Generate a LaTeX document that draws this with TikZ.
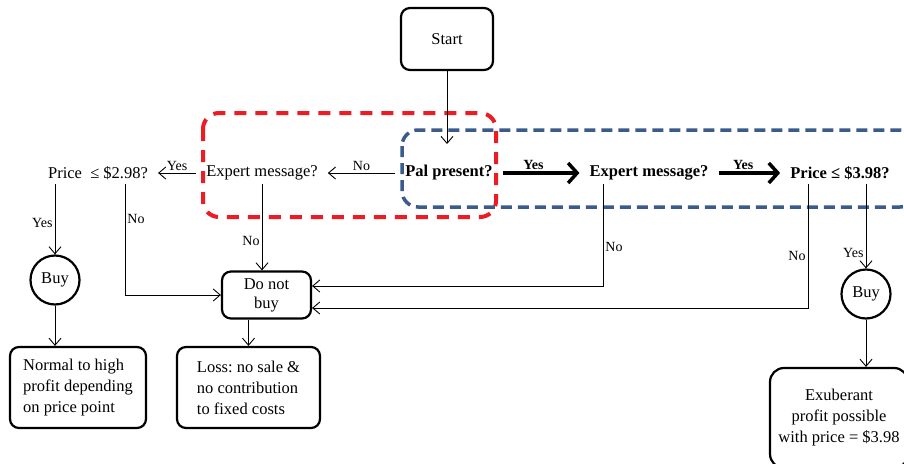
\documentclass[tikz,border=0pt]{standalone}
\usepackage{fontspec}
\setmainfont{Liberation Serif}
\usetikzlibrary{arrows.meta,calc}
\definecolor{myred}{RGB}{235,28,36}
\definecolor{myblue}{RGB}{58,92,138}
\frenchspacing
\begin{document}
\begin{tikzpicture}[x=1pt,y=-1pt,
  every node/.style={font=\fontsize{16.5}{21}\selectfont},
  box/.style={draw, line width=2.2pt, rounded corners=9pt, align=center},
  qtext/.style={inner xsep=10pt, inner ysep=4pt},
  bq/.style={qtext, font=\fontsize{16.5}{21}\selectfont\bfseries},
  buycirc/.style={draw, circle, line width=2.2pt, minimum size=49pt, inner sep=0pt},
  arr/.style={line width=0.9pt, -{Straight Barb[length=7pt,width=12pt]}},
  barr/.style={line width=3.5pt, -{Straight Barb[length=9pt,width=20pt]}},
  lab/.style={font=\fontsize{14}{16}\selectfont, inner sep=2pt},
  blab/.style={font=\fontsize{14}{16}\selectfont\bfseries, inner sep=2pt},
  redbox/.style={draw=myred, line width=4pt, dash pattern=on 12pt off 9pt, rounded corners=16pt},
  bluebox/.style={draw=myblue, line width=3.5pt, dash pattern=on 11pt off 6pt, rounded corners=16pt}]
\clip (0,0) rectangle (904,463);
\fill[white] (0,0) rectangle (904,463);

% dashed groups
\draw[redbox] (203,113) rectangle (496,217);
\draw[bluebox] (402,130) rectangle (916,207);

% nodes
\node[box, minimum width=92pt, minimum height=62pt] (start) at (447,39) {Start};
\node[bq] (pal) at (449,173) {Pal present?};
\coordinate (palin) at (447,144);
\node[qtext] (expL) at (262,173) {Expert message?};
\node[qtext] (priceL) at (98,173) {Price \ ≤ \$2.98?};
\node[bq] (expR) at (649,173) {Expert message?};
\node[bq] (priceR) at (840,173) {Price ≤ \$3.98?};
\node[buycirc] (buyL) at (55,280) {Buy};
\node[buycirc] (buyR) at (866,294) {Buy};
\node[box, minimum width=89pt, minimum height=47pt, inner sep=1pt] (dnb) at (266.5,295) {Do not\\[-2pt]buy};
\node[box, minimum width=136pt, minimum height=81pt, align=left] (normal) at (78,387.5) {Normal to high\\profit depending\\on price point};
\node[box, minimum width=143pt, minimum height=81pt, align=left] (loss) at (248.5,387.5) {Loss: no sale \&\\no contribution\\to fixed costs};
\node[box, minimum width=138pt, minimum height=100pt, rounded corners=14pt] (exu) at (839,418) {Exuberant\\profit possible\\with price = \$3.98};

% connectors
\draw[arr] (start.south -| palin) -- (palin);
\draw[arr] (pal) -- node[lab, above] {No} (expL);
\draw[arr] (expL) -- node[lab, above] {Yes} (priceL);
\draw[arr] (priceL.south -| buyL.north) -- node[lab, left, pos=0.55] {Yes} (buyL.north);
\draw[arr] (buyL) -- (normal.north -| buyL);
\draw[arr] ($(priceL.south)+(27,0)$) |- node[lab, right, pos=0.16] {No} (dnb.west);
\draw[arr] (expL.south) -- node[lab, left, pos=0.66] {No} (expL.south |- dnb.north);
\draw[arr] (dnb.south -| loss.north) -- (loss.north);
\draw[barr] (pal) -- node[blab, above, pos=0.4] {Yes} (expR);
\draw[barr] (expR) -- node[blab, above, pos=0.4] {Yes} (priceR);
\draw[arr] ($(expR.south)+(-46,0)$) |- node[lab, right, pos=0.31] {No} ($(dnb.east)+(0,-9)$);
\draw[arr] ($(priceR.south)+(-32,0)$) |- node[lab, left, pos=0.29] {No} ($(dnb.east)+(0,13)$);
\draw[arr] (priceR.south -| buyR.north) -- node[lab, left, pos=0.82] {Yes} (buyR.north);
\draw[arr] (buyR) -- (exu.north -| buyR);
\end{tikzpicture}
\end{document}
